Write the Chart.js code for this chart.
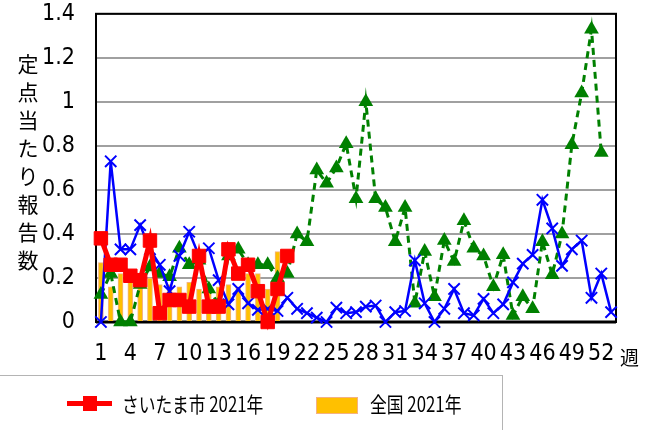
<!DOCTYPE html>
<html>
<head>
<meta charset="utf-8">
<script src="https://cdn.jsdelivr.net/npm/chart.js@4.4.1/dist/chart.umd.min.js"></script>
<style>
    body { margin: 0; background: #fff; }
    #wrap { position: relative; width: 650px; height: 430px; overflow: hidden; font-family: 'Noto Sans CJK JP', sans-serif; color: #000; }
    #chart_main { position: absolute; left: 0; top: -21px; }
    .y_title { position: absolute; left: 17px; top: 49px; width: 22px; font-size: 21px; line-height: 28px; text-align: center; }
    .week_unit { position: absolute; left: 620px; top: 345px; font-size: 19px; line-height: 24px; }
    .legend_box { position: absolute; left: -1px; top: 375px; width: 502px; height: 80px; border: 1px solid #b4b4b4; }
    .legend_line { position: absolute; left: 67px; top: 401px; width: 45px; height: 5px; background: #ff0000; }
    .legend_square { position: absolute; left: 83px; top: 396px; width: 14px; height: 15px; background: #ff0000; }
    .legend_bar { position: absolute; left: 316px; top: 397px; width: 40px; height: 15px; background: #ffc000; border: 1px solid #f4b183; }
    .legend_text { position: absolute; top: 389px; font-size: 21px; line-height: 28px; transform: scaleX(0.8); transform-origin: left center; white-space: nowrap; }
</style>
</head>
<body>
<div id="wrap">
    <canvas id="chart_main" width="650" height="451"></canvas>
    <div class="y_title">定<br>点<br>当<br>た<br>り<br>報<br>告<br>数</div>
    <div class="week_unit">週</div>
    <div class="legend_box"></div>
    <div class="legend_line"></div>
    <div class="legend_square"></div>
    <div class="legend_text" style="left:122px;">さいたま市 2021年</div>
    <div class="legend_bar"></div>
    <div class="legend_text" style="left:370px;">全国 2021年</div>
</div>
<script>
const week_labels = ['1', '2', '3', '4', '5', '6', '7', '8', '9', '10',
    '11', '12', '13', '14', '15', '16', '17', '18', '19', '20',
    '21', '22', '23', '24', '25', '26', '27', '28', '29', '30',
    '31', '32', '33', '34', '35', '36', '37', '38', '39', '40',
    '41', '42', '43', '44', '45', '46', '47', '48', '49', '50',
    '51', '52', '53'];

const saitama_2021 = [0.38, 0.26, 0.26, 0.21, 0.19, 0.37, 0.04, 0.10, 0.10, 0.07,
    0.30, 0.07, 0.07, 0.33, 0.22, 0.26, 0.14, 0.00, 0.15, 0.30];

const national_2021 = [0.27, 0.16, 0.22, 0.20, 0.20, 0.20, 0.17, 0.17, 0.16, 0.18,
    0.15, 0.16, 0.16, 0.17, 0.16, 0.22, 0.22, 0.15, 0.32];

const blue_series = [0.00, 0.73, 0.33, 0.33, 0.44, 0.33, 0.26, 0.14, 0.30, 0.41,
    0.30, 0.335, 0.19, 0.08, 0.15, 0.085, 0.055, 0.06, 0.05, 0.11,
    0.06, 0.04, 0.02, 0.00, 0.065, 0.04, 0.045, 0.07, 0.075, 0.00,
    0.045, 0.05, 0.28, 0.085, 0.00, 0.06, 0.15, 0.04, 0.03, 0.105,
    0.04, 0.08, 0.18, 0.265, 0.305, 0.555, 0.425, 0.255, 0.33, 0.37,
    0.11, 0.22, 0.045];

const green_series = [0.125, 0.22, 0.00, 0.00, 0.17, 0.25, 0.22, 0.205, 0.335, 0.26,
    0.28, 0.15, 0.08, 0.30, 0.33, 0.26, 0.26, 0.26, 0.20, 0.22,
    0.40, 0.365, 0.69, 0.63, 0.70, 0.81, 0.56, 1.00, 0.56, 0.52,
    0.365, 0.52, 0.085, 0.32, 0.115, 0.37, 0.275, 0.46, 0.335, 0.30,
    0.16, 0.305, 0.03, 0.115, 0.06, 0.365, 0.215, 0.40, 0.805, 1.04,
    1.33, 0.77];

const y_ticks = [0, 0.2, 0.4, 0.6, 0.8, 1, 1.2, 1.4];

const tick_font = { family: "'Liberation Sans Narrow', 'DejaVu Sans Condensed', sans-serif", size: 23 };

// black frame round the plot area
const frame_plugin = {
    id: 'frame_plugin',
    beforeDatasetsDraw(chart) {
        const a = chart.chartArea;
        const ctx = chart.ctx;
        ctx.save();
        ctx.strokeStyle = '#000';
        ctx.lineWidth = 2;
        ctx.strokeRect(a.left, a.top, a.right - a.left, a.bottom - a.top);
        ctx.lineWidth = 3;
        ctx.beginPath();
        ctx.moveTo(a.left, a.bottom);
        ctx.lineTo(a.right, a.bottom);
        ctx.stroke();
        ctx.restore();
    },
};

new Chart(document.getElementById('chart_main').getContext('2d'), {
    data: {
        labels: week_labels,
        datasets: [
            {
                type: 'line',
                label: 'さいたま市 2021年',
                data: saitama_2021,
                borderColor: '#ff0000',
                backgroundColor: '#ff0000',
                borderWidth: 5,
                pointStyle: 'rect',
                pointRadius: 9.5,
                pointBorderWidth: 1,
                tension: 0,
                clip: false,
                order: 0,
            },
            {
                type: 'line',
                label: 'blue',
                data: blue_series,
                borderColor: '#0000ff',
                backgroundColor: '#0000ff',
                borderWidth: 2.5,
                pointStyle: 'crossRot',
                pointRadius: 8,
                pointBorderWidth: 2,
                tension: 0,
                clip: false,
                order: 1,
            },
            {
                type: 'line',
                label: 'green',
                data: green_series,
                borderColor: '#008000',
                backgroundColor: '#008000',
                borderWidth: 3,
                borderDash: [7, 5],
                pointStyle: 'triangle',
                pointRadius: 8.5,
                pointBorderWidth: 0,
                tension: 0,
                clip: false,
                order: 2,
            },
            {
                type: 'bar',
                label: '全国 2021年',
                data: national_2021,
                backgroundColor: '#ffc000',
                borderColor: '#f4b183',
                borderWidth: 1,
                barThickness: 5,
                order: 3,
            },
        ],
    },
    options: {
        responsive: false,
        animation: false,
        layout: { autoPadding: false, padding: { left: 0, top: 14, right: 34, bottom: 58 } },
        plugins: {
            legend: { display: false },
            tooltip: { enabled: false },
        },
        scales: {
            x: {
                type: 'category',
                offset: true,
                grid: { display: false },
                border: { display: false },
                afterFit(s) { s.height = 50; },
                ticks: {
                    autoSkip: false,
                    maxRotation: 0,
                    minRotation: 0,
                    padding: 10,
                    color: '#000',
                    font: tick_font,
                    callback(v, i) { return i % 3 === 0 ? week_labels[i] : ''; },
                },
            },
            y: {
                min: 0,
                max: 1.4,
                afterFit(s) { s.width = 96; },
                afterBuildTicks(s) { s.ticks = y_ticks.map((v) => ({ value: v })); },
                grid: { color: '#a0a0a0', lineWidth: 2, drawTicks: false },
                border: { color: '#000', width: 2 },
                ticks: {
                    padding: 21,
                    color: '#000',
                    font: tick_font,
                    callback(v) { return String(Number(v.toFixed(1))); },
                },
            },
        },
    },
    plugins: [frame_plugin],
});
</script>
</body>
</html>
